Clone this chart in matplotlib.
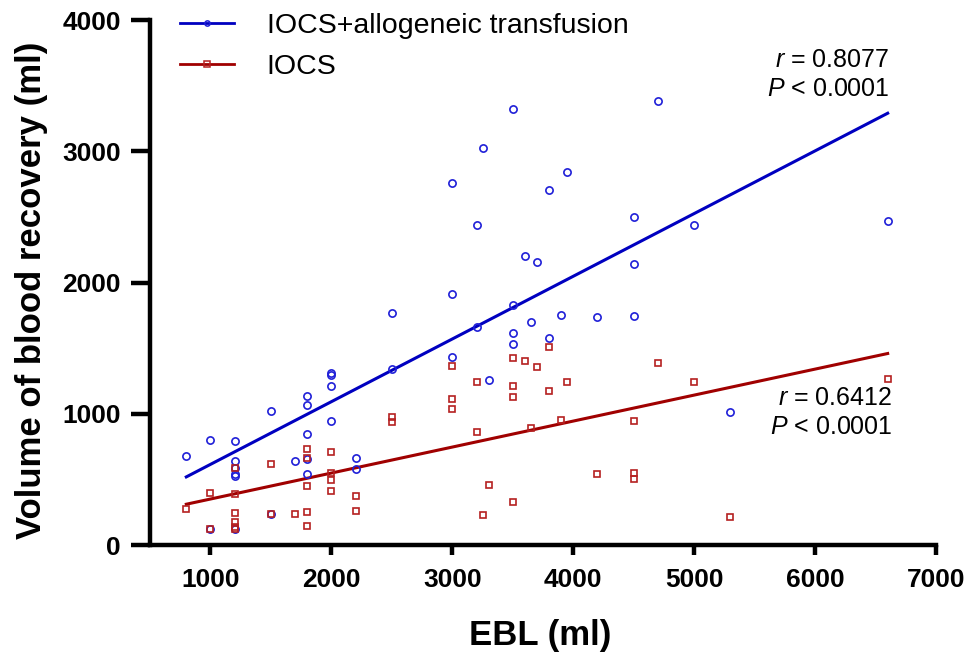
import matplotlib
matplotlib.use("Agg")
import matplotlib.pyplot as plt
from matplotlib.lines import Line2D
import numpy as np

plt.rcParams['font.family'] = ['Liberation Sans', 'DejaVu Sans']
plt.rcParams['mathtext.fontset'] = 'custom'
plt.rcParams['mathtext.it'] = 'Liberation Sans:italic'
plt.rcParams['mathtext.rm'] = 'Liberation Sans'

# IOCS + allogeneic transfusion (EBL, recovered volume)
blue_x = [800, 1000, 1000, 1200, 1200, 1200, 1200, 1200, 1200, 1500, 1500, 1700,
          1800, 1800, 1800, 1800, 1800, 2000, 2000, 2000, 2000, 2200, 2200,
          2500, 2500, 3000, 3000, 3000, 3200, 3200, 3250, 3300, 3500, 3500,
          3500, 3500, 3600, 3650, 3700, 3800, 3800, 3900, 3950, 4200, 4500,
          4500, 4500, 4700, 5000, 5300, 6600]
blue_y = [680, 800, 120, 790, 640, 590, 540, 525, 120, 1020, 236, 640,
          1135, 1065, 850, 655, 545, 1310, 1295, 1210, 945, 660, 577,
          1340, 1770, 2763, 1912, 1437, 2440, 1659, 3028, 1255, 3324, 1826,
          1613, 1529, 2202, 1697, 2156, 2705, 1575, 1750, 2845, 1737, 2501,
          2143, 1745, 3383, 2443, 1016, 2469]

# IOCS only
red_x = [800, 1000, 1000, 1200, 1200, 1200, 1200, 1200, 1200, 1500, 1500, 1700,
         1800, 1800, 1800, 1800, 1800, 2000, 2000, 2000, 2000, 2200, 2200,
         2500, 2500, 3000, 3000, 3000, 3200, 3200, 3250, 3300, 3500, 3500,
         3500, 3500, 3600, 3650, 3700, 3800, 3800, 3900, 3950, 4200, 4500,
         4500, 4500, 4700, 5000, 5300, 6600]
red_y = [274, 399, 120, 391, 584, 246, 175, 135, 120, 620, 236, 239,
         734, 665, 452, 254, 145, 709, 546, 495, 411, 376, 262,
         973, 935, 1366, 1112, 1036, 1242, 861, 229, 455, 1425, 1214,
         1130, 325, 1402, 894, 1359, 1506, 1176, 950, 1244, 539, 945,
         546, 503, 1384, 1244, 216, 1267]

labels = ['IOCS+allogeneic transfusion', 'IOCS']
stats = [('0.8077', '< 0.0001'), ('0.6412', '< 0.0001')]

blue_mk, blue_ln = '#2020D8', '#0000C0'
red_mk, red_ln = '#B52020', '#A00000'

fig = plt.figure(figsize=(9.71, 6.52), dpi=100)
ax = fig.add_axes([0.1545, 0.164, 0.8095, 0.805])

ax.plot(blue_x, blue_y, 'o', mfc='none', mec=blue_mk, ms=5.2, mew=1.2, zorder=3)
ax.plot(red_x, red_y, 's', mfc='none', mec=red_mk, ms=4.7, mew=1.2, zorder=3)

# linear regression lines
for xs, ys, c in [(blue_x, blue_y, blue_ln), (red_x, red_y, red_ln)]:
    k, b = np.polyfit(xs, ys, 1)
    xx = np.array([min(xs), max(xs)])
    ax.plot(xx, k*xx + b, color=c, lw=2.2, zorder=2)

ax.set_xlim(500, 7000)
ax.set_ylim(0, 4000)
ax.set_xticks([1000, 2000, 3000, 4000, 5000, 6000, 7000])
ax.set_yticks([0, 1000, 2000, 3000, 4000])
for s in ['top', 'right']:
    ax.spines[s].set_visible(False)
for s in ['left', 'bottom']:
    ax.spines[s].set_linewidth(3.2)
ax.tick_params(axis='y', length=14, width=3.2, pad=7, labelsize=19)
ax.tick_params(axis='x', length=7.5, width=3.2, pad=9, labelsize=19)
for t in ax.get_xticklabels() + ax.get_yticklabels():
    t.set_fontweight('bold')

ax.set_xlabel('EBL (ml)', fontsize=25, fontweight='bold')
ax.set_ylabel('Volume of blood recovery (ml)', fontsize=25, fontweight='bold')
ax.xaxis.set_label_coords(0.497, -0.14)
ax.yaxis.set_label_coords(-0.13, 0.486)

handles = [Line2D([], [], color=blue_ln, lw=2, marker='o', ms=3.8, mfc='none', mec=blue_mk, mew=1.1),
           Line2D([], [], color=red_ln, lw=2, marker='s', ms=3.8, mfc='none', mec=red_mk, mew=1.1)]
ax.legend(handles, labels, loc='upper left', bbox_to_anchor=(0.038, 1.013), frameon=False,
          fontsize=20.5, handlelength=1.9, handletextpad=1.15, labelspacing=0.5,
          borderpad=0, borderaxespad=0)

# correlation annotations
pos = [(6613, 3695, 3474), (6637, 1120, 899)]
for (r, p), (xt, yr, yp) in zip(stats, pos):
    ax.text(xt, yr, '$\\mathit{r}$ = ' + r, ha='right', va='center', fontsize=18)
    ax.text(xt, yp, '$\\mathit{P}$ ' + p, ha='right', va='center', fontsize=18)

fig.savefig('out.png', dpi=100)
